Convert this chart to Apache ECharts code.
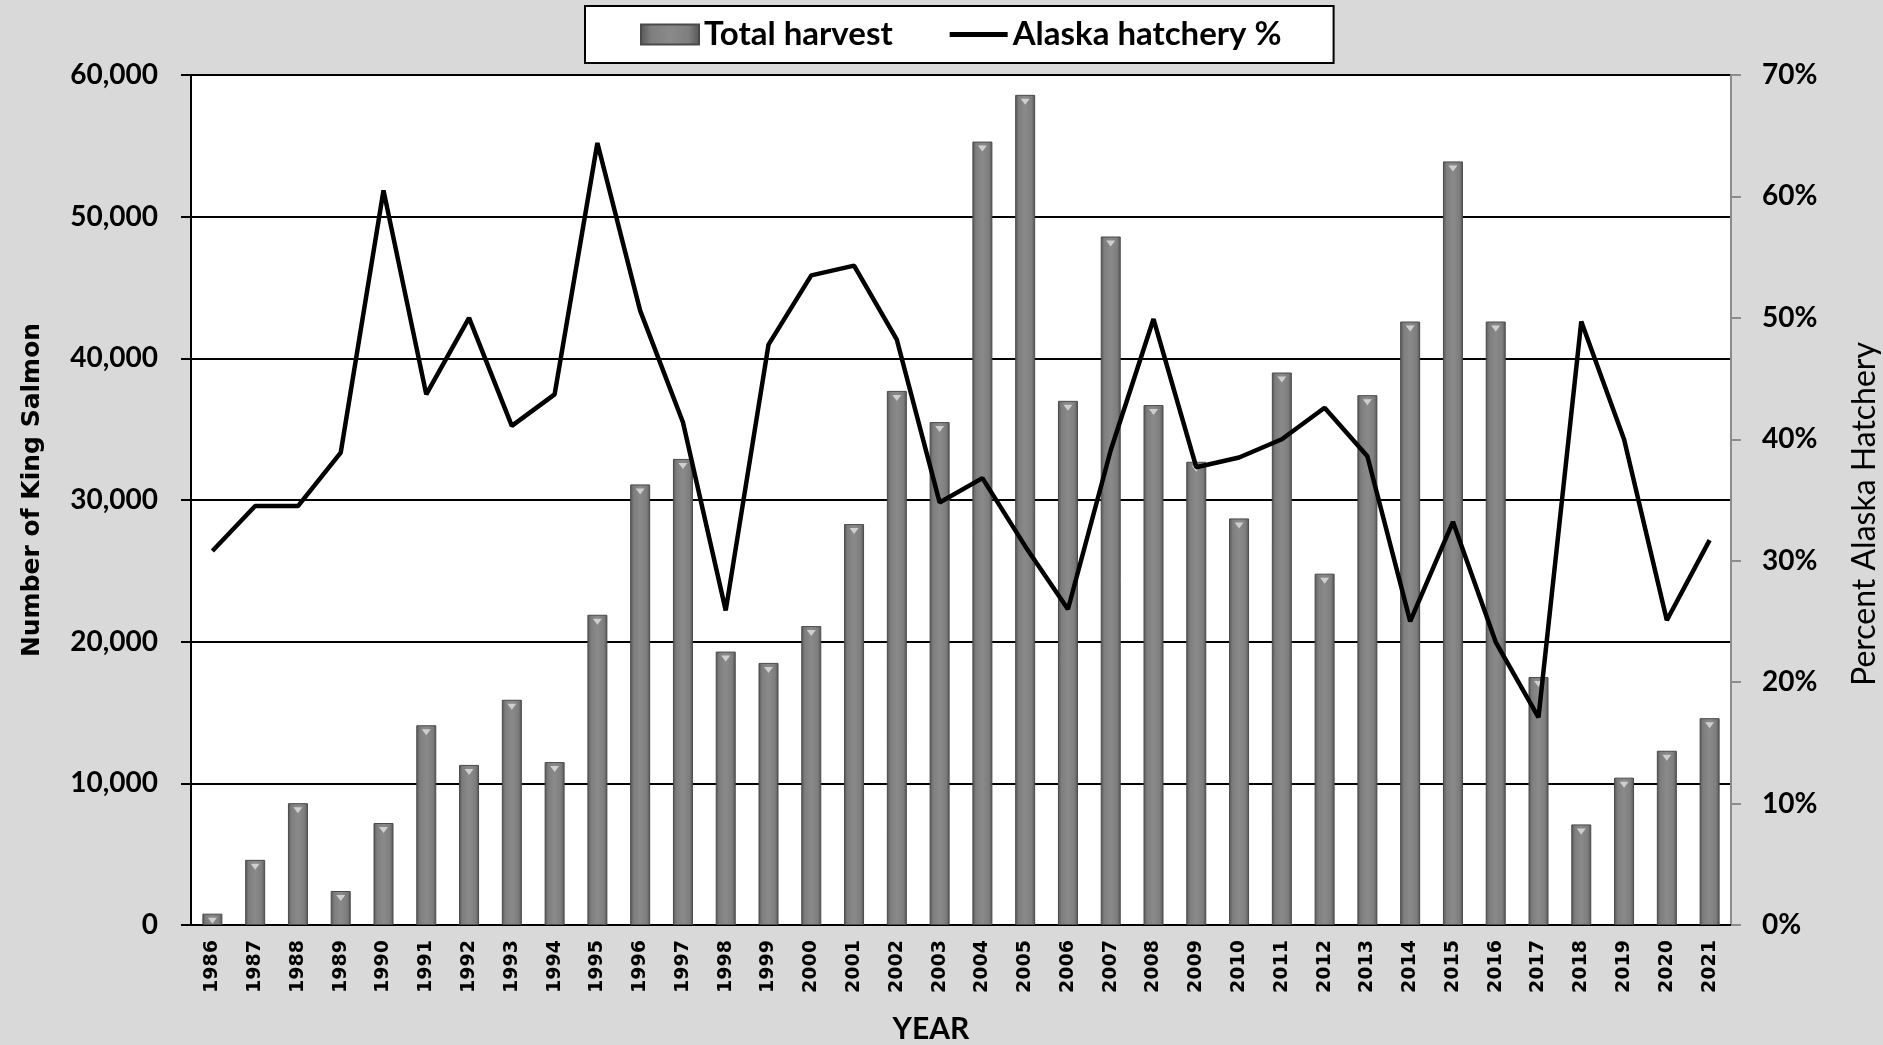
<!DOCTYPE html>
<html><head><meta charset="utf-8">
<script src="https://cdn.jsdelivr.net/npm/echarts@6/dist/echarts.min.js"></script>
<style>html,body{margin:0;padding:0;background:#d9d9d9}#c{width:1883px;height:1045px}</style>
</head><body><div id="c"></div>
<script>
const years = ['1986','1987','1988','1989','1990','1991','1992','1993','1994','1995','1996','1997','1998','1999','2000','2001','2002','2003','2004','2005','2006','2007','2008','2009','2010','2011','2012','2013','2014','2015','2016','2017','2018','2019','2020','2021'];
const totalHarvest = [800,4600,8600,2400,7200,14100,11300,15900,11500,21900,31100,32900,19300,18500,21100,28300,37700,35500,55300,58600,37000,48600,36700,32700,28700,39000,24800,37400,42600,53900,42600,17500,7100,10400,12300,14600];
const hatcheryPct = [30.8,34.5,34.5,38.9,60.5,43.7,50.0,41.1,43.7,64.4,50.6,41.4,25.9,47.8,53.5,54.3,48.2,34.8,36.8,31.2,26.0,39.1,49.9,37.7,38.5,40.0,42.6,38.6,25.0,33.2,23.3,17.1,49.7,40.0,25.1,31.7];
const leftAxisRange = [0, 60000, 10000];
const rightAxisRange = [0, 70, 10];

const chart = echarts.init(document.getElementById('c'));
const barGrad = {type:'linear',x:0,y:0,x2:1,y2:0,colorStops:[
  {offset:0,color:'#555'},{offset:0.18,color:'#7e7e7e'},{offset:0.5,color:'#8a8a8a'},{offset:0.82,color:'#7e7e7e'},{offset:1,color:'#555'}]};
chart.setOption({
  animation:false,
  backgroundColor:'#d9d9d9',
  grid:{left:191,right:152,top:75,bottom:120,show:true,backgroundColor:'#fff',borderWidth:0,containLabel:false,outerBoundsMode:'none'},
  legend:{
    data:[{name:'Total harvest',icon:'rect'},
          {name:'Alaska hatchery %',icon:'path://M0,0 L0,0 M0,7.5 L60,7.5 L60,12.5 L0,12.5 Z M60,20 L60,20'}],
    left:585, top:6, backgroundColor:'#fff', borderColor:'#000', borderWidth:2,
    padding:[12,52,12,55], itemGap:57, itemWidth:58, itemHeight:20,
    textStyle:{fontFamily:'Lato',fontWeight:'bold',fontSize:33,color:'#000'}
  },
  xAxis:{
    type:'category', data:years,
    axisLine:{lineStyle:{color:'#000',width:2}},
    axisTick:{length:8,lineStyle:{color:'#000',width:2}},
    axisLabel:{rotate:90,interval:0,fontFamily:'DejaVu Sans',fontWeight:'bold',fontSize:19,color:'#000',margin:15},
    name:'YEAR', nameLocation:'middle', nameGap:89,
    nameTextStyle:{fontFamily:'Lato',fontWeight:'bold',fontSize:30,color:'#000',padding:[0,60,0,0]}
  },
  yAxis:[{
    type:'value', min:leftAxisRange[0], max:leftAxisRange[1], interval:leftAxisRange[2], position:'left',
    axisLine:{show:true,lineStyle:{color:'#000',width:2}},
    axisTick:{show:true,length:10,lineStyle:{color:'#000',width:2}},
    splitLine:{lineStyle:{color:'#000',width:2}},
    axisLabel:{fontFamily:'Lato',fontWeight:'bold',fontSize:28,color:'#000',margin:33,formatter:v=>v.toLocaleString('en-US')},
    name:'Number of King Salmon', nameLocation:'middle', nameRotate:90, nameGap:146,
    nameTextStyle:{fontFamily:'DejaVu Sans',fontWeight:'bold',fontSize:25,color:'#000',padding:[0,0,0,20]}
  },{
    type:'value', min:rightAxisRange[0], max:rightAxisRange[1], interval:rightAxisRange[2], position:'right',
    axisLine:{show:true,lineStyle:{color:'#8c8c8c',width:2}},
    axisTick:{show:true,length:10,lineStyle:{color:'#8c8c8c',width:2}},
    splitLine:{show:false},
    axisLabel:{fontFamily:'Lato',fontWeight:'bold',fontSize:28,color:'#000',margin:31,formatter:'{value}%'},
    name:'Percent Alaska Hatchery', nameLocation:'middle', nameRotate:90, nameGap:118,
    nameTextStyle:{fontFamily:'Lato',fontSize:32,color:'#000',padding:[0,28,0,0]}
  }],
  series:[{
    name:'Total harvest', type:'bar', yAxisIndex:0, data:totalHarvest, barWidth:20, barGap:'-100%',
    itemStyle:{color:barGrad,borderColor:'#4a4a4a',borderWidth:1}
  },{
    name:'cap', type:'pictorialBar', yAxisIndex:0, data:totalHarvest, barWidth:20, silent:true,
    symbol:'path://M0,0 L10,0 L5,6 Z', symbolSize:[9,6], symbolPosition:'end', symbolOffset:[0,4],
    itemStyle:{color:'#cfcfcf'}, z:3
  },{
    name:'Alaska hatchery %', type:'line', yAxisIndex:1, data:hatcheryPct, symbol:'none',
    lineStyle:{color:'#000',width:4.5}, itemStyle:{color:'#000'}, z:5
  }]
});
</script></body></html>
